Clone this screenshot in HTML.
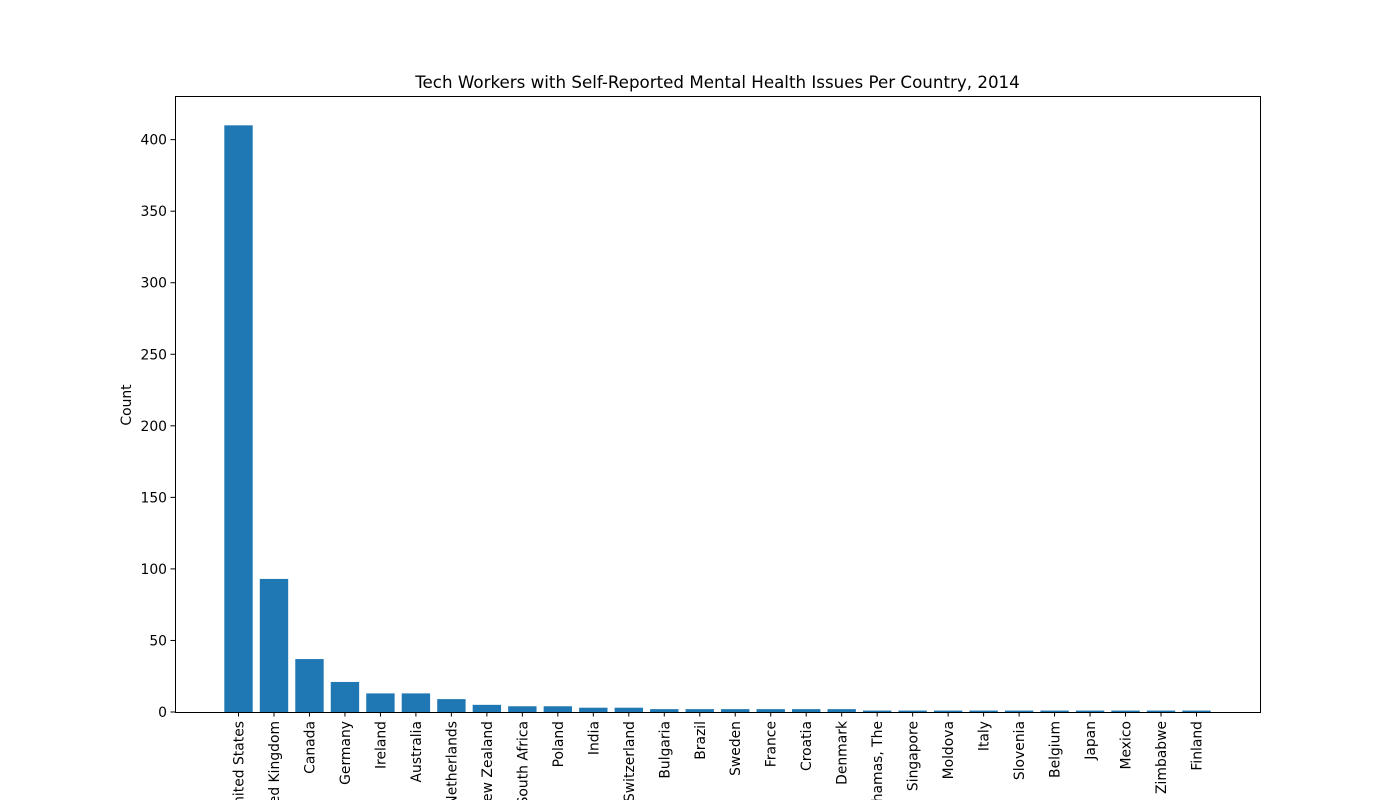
<!DOCTYPE html>
<html><head><meta charset="utf-8"><style>body{margin:0;background:#fff}svg{display:block}</style></head>
<body>
<svg id="chart" width="1400" height="800" xmlns="http://www.w3.org/2000/svg" font-family="DejaVu Sans, Liberation Sans, sans-serif">
<rect width="1400" height="800" fill="#fff"/>
<text x="717.5" y="88" font-size="16.7" text-anchor="middle">Tech Workers with Self-Reported Mental Health Issues Per Country, 2014</text>
<text transform="translate(131,405) rotate(-90)" font-size="13.9" text-anchor="middle">Count</text>
<g id="bars"></g><g id="yticks"></g><g id="xticks"></g>
<rect x="175.5" y="96.5" width="1085" height="616" fill="none" stroke="#000" stroke-width="1"/>
</svg>
<script>
const categories=["United States","United Kingdom","Canada","Germany","Ireland","Australia","Netherlands","New Zealand","South Africa","Poland","India","Switzerland","Bulgaria","Brazil","Sweden","France","Croatia","Denmark","Bahamas, The","Singapore","Moldova","Italy","Slovenia","Belgium","Japan","Mexico","Zimbabwe","Finland"];
const counts=[410,93,37,21,13,13,9,5,4,4,3,3,2,2,2,2,2,2,1,1,1,1,1,1,1,1,1,1];
const yTickValues=[0,50,100,150,200,250,300,350,400];
const NS="http://www.w3.org/2000/svg";
const L=175,R=1260,T=96,B=712;
const n=categories.length;
const xmin=-0.4-0.05*(n-1+0.8),xmax=n-1+0.4+0.05*(n-1+0.8);
const ymax=Math.max(...counts)*1.05;
const xs=v=>L+(v-xmin)/(xmax-xmin)*(R-L);
const ys=v=>B-v/ymax*(B-T);
function mk(t,a,p){const e=document.createElementNS(NS,t);for(const k in a)e.setAttribute(k,a[k]);p.appendChild(e);return e;}
const gb=document.getElementById('bars'),gx=document.getElementById('xticks'),gy=document.getElementById('yticks');
categories.forEach((c,i)=>{
 const x0=xs(i-0.4),x1=xs(i+0.4);
 const r=mk('rect',{x:x0,y:ys(counts[i]),width:x1-x0,height:ys(0)-ys(counts[i]),fill:'#1f77b4'},gb);
 
 
 const cx=xs(i);
 mk('line',{x1:cx,x2:cx,y1:B,y2:B+4.5,stroke:'#000'},gx);
 const t=mk('text',{transform:`translate(${cx+5},${B+9}) rotate(-90)`,'font-size':'13.9','text-anchor':'end'},gx);
 t.textContent=c;
 
 
});
yTickValues.forEach(v=>{
 const y=ys(v);
 mk('line',{x1:L-4.5,x2:L,y1:y,y2:y,stroke:'#000'},gy);
 const t=mk('text',{x:L-8,y:y+5,'font-size':'13.9','text-anchor':'end'},gy);
 t.textContent=v;
 
 
});
</script>
</body></html>
